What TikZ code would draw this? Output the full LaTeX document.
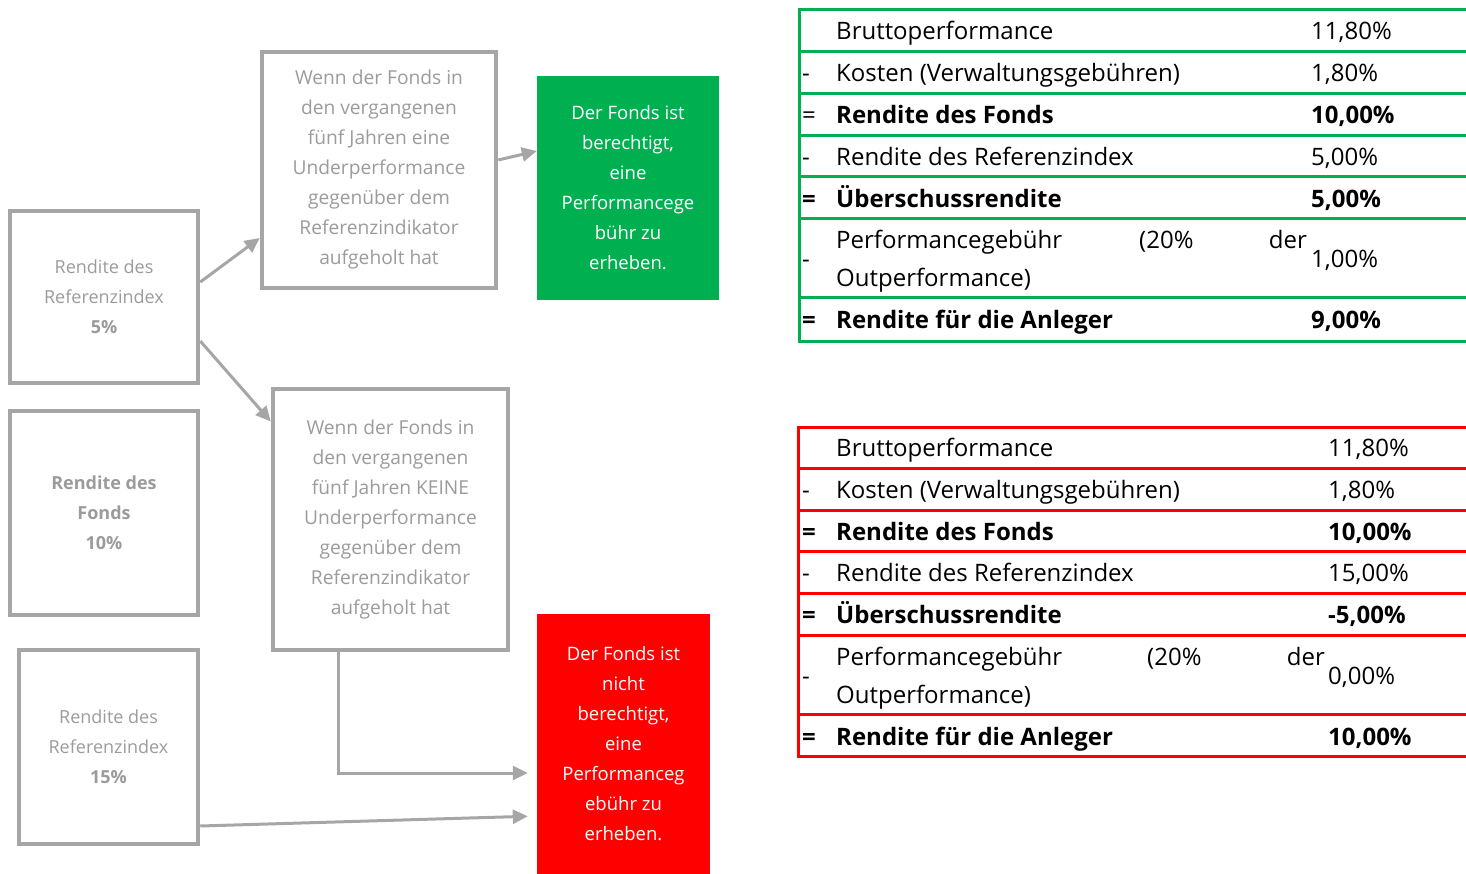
\documentclass[tikz,border=0pt]{standalone}
\usepackage{fontspec}
\setmainfont{Open Sans}
\usetikzlibrary{arrows.meta}
\definecolor{boxgray}{RGB}{166,166,166}
\definecolor{txtgray}{RGB}{155,155,155}
\definecolor{okgreen}{RGB}{0,176,80}
\definecolor{nored}{RGB}{255,0,0}
\tikzset{
  box/.style={draw=boxgray, line width=4.5pt, inner sep=0pt, align=center,
    text=txtgray, font={\fontsize{19.2}{30}\selectfont}},
  verdict/.style={inner sep=0pt, align=center, text=white,
    font={\fontsize{18.5}{30}\selectfont}},
  link/.style={draw=boxgray, line width=3pt, -{Triangle[length=15pt,width=14pt]}},
  cell/.style={inner sep=0pt, anchor=base west, font={\fontsize{24}{30}\selectfont}},
  cellb/.style={cell, font={\bfseries\fontsize{24}{30}\selectfont}},
  cellr/.style={cell, anchor=base east}
}

\begin{document}
\begin{tikzpicture}[x=1pt,y=-1pt]
\useasboundingbox (0,0) rectangle (1466,874);
% left side: inputs, conditions, verdicts
\node[box, minimum width=188pt, minimum height=172pt, font={\fontsize{18}{30}\selectfont}] (ref5) at (104,297)
  {Rendite des\\Referenzindex\\\textbf{5\%}};
\node[box, minimum width=188pt, minimum height=204pt, font={\bfseries\fontsize{18}{30}\selectfont}] (fund) at (104,513)
  {Rendite des\\Fonds\\10\%};
\node[box, minimum width=179pt, minimum height=194pt, font={\fontsize{18}{30}\selectfont}] (ref15) at (108.5,747)
  {Rendite des\\Referenzindex\\\textbf{15\%}};
\node[box, minimum width=234pt, minimum height=236pt] (under) at (379,170)
  {Wenn der Fonds in\\den vergangenen\\fünf Jahren eine\\Underperformance\\gegenüber dem\\Referenzindikator\\aufgeholt hat};
\node[box, minimum width=235pt, minimum height=261pt] (nounder) at (390.5,519.5)
  {Wenn der Fonds in\\den vergangenen\\fünf Jahren KEINE\\Underperformance\\gegenüber dem\\Referenzindikator\\aufgeholt hat};
\node[verdict, fill=okgreen, minimum width=182pt, minimum height=224pt] (yes) at (628,188)
  {Der Fonds ist\\berechtigt,\\eine\\Performancege\\bühr zu\\erheben.};
\node[verdict, fill=nored, minimum width=173pt, minimum height=260pt] (no) at (623.5,744)
  {Der Fonds ist\\nicht\\berechtigt,\\eine\\Performanceg\\ebühr zu\\erheben.};

\draw[link] ([yshift=15pt]ref5.east) -- ([yshift=-68pt]under.west);
\draw[link] ([yshift=-44pt]ref5.east) -- ([yshift=98pt]nounder.west);
\draw[link] ([yshift=10pt]under.east) -- ([yshift=37pt]yes.west);
\draw[link, shorten >=9pt] ([xshift=-52pt]nounder.south) |- ([yshift=-29pt]no.west);
\draw[link, shorten >=9pt] ([yshift=-79pt]ref15.east) -- ([yshift=-72pt]no.west);

% green table
\foreach \y in {10,52,94,136,177,219,298,341}
  \draw[okgreen, line width=3pt] (799,\y) -- (1466,\y);
\draw[okgreen, line width=3pt] (799,8.5) -- (799,342.5);
\node[cell] (g1) at (836,40) {Bruttoperformance};
\node[cell] (g1v) at (1311,40) {11,80\%};
\node[cell] (g2o) at (802,82) {-};
\node[cell] (g2) at (836,82) {Kosten (Verwaltungsgebühren)};
\node[cell] (g2v) at (1311,82) {1,80\%};
\node[cell] (g3o) at (802,124) {=};
\node[cellb] (g3) at (836,124) {Rendite des Fonds};
\node[cellb] (g3v) at (1311,124) {10,00\%};
\node[cell] (g4o) at (802,166) {-};
\node[cell] (g4) at (836,166) {Rendite des Referenzindex};
\node[cell] (g4v) at (1311,166) {5,00\%};
\node[cellb] (g5o) at (802,208) {=};
\node[cellb] (g5) at (836,208) {Überschussrendite};
\node[cellb] (g5v) at (1311,208) {5,00\%};
\node[cell] (g6o) at (802,268) {-};
\node[cell] (g6a) at (836,249) {Performancegebühr};
\node[cell] (g6b) at (1139,249) {(20\%};
\node[cellr] (g6c) at (1307,249) {der};
\node[cell] (g6d) at (836,287) {Outperformance)};
\node[cell] (g6v) at (1311,268) {1,00\%};
\node[cellb] (g7o) at (802,329) {=};
\node[cellb] (g7) at (836,329) {Rendite für die Anleger};
\node[cellb] (g7v) at (1311,329) {9,00\%};

% red table
\foreach \y in {427,468,510,551,593,635,714,756}
  \draw[nored, line width=3pt] (798,\y) -- (1466,\y);
\draw[nored, line width=3pt] (798,425.5) -- (798,757.5);
\node[cell] (r1) at (836,456) {Bruttoperformance};
\node[cell] (r1v) at (1328,456) {11,80\%};
\node[cell] (r2o) at (802,498) {-};
\node[cell] (r2) at (836,498) {Kosten (Verwaltungsgebühren)};
\node[cell] (r2v) at (1328,498) {1,80\%};
\node[cellb] (r3o) at (802,540) {=};
\node[cellb] (r3) at (836,540) {Rendite des Fonds};
\node[cellb] (r3v) at (1328,540) {10,00\%};
\node[cell] (r4o) at (802,581) {-};
\node[cell] (r4) at (836,581) {Rendite des Referenzindex};
\node[cell] (r4v) at (1328,581) {15,00\%};
\node[cellb] (r5o) at (802,623) {=};
\node[cellb] (r5) at (836,623) {Überschussrendite};
\node[cellb] (r5v) at (1328,623) {-5,00\%};
\node[cell] (r6o) at (802,684) {-};
\node[cell] (r6a) at (836,665) {Performancegebühr};
\node[cell] (r6b) at (1147,665) {(20\%};
\node[cellr] (r6c) at (1325,665) {der};
\node[cell] (r6d) at (836,703) {Outperformance)};
\node[cell] (r6v) at (1328,684) {0,00\%};
\node[cellb] (r7o) at (802,745) {=};
\node[cellb] (r7) at (836,745) {Rendite für die Anleger};
\node[cellb] (r7v) at (1328,745) {10,00\%};
\end{tikzpicture}
\end{document}
